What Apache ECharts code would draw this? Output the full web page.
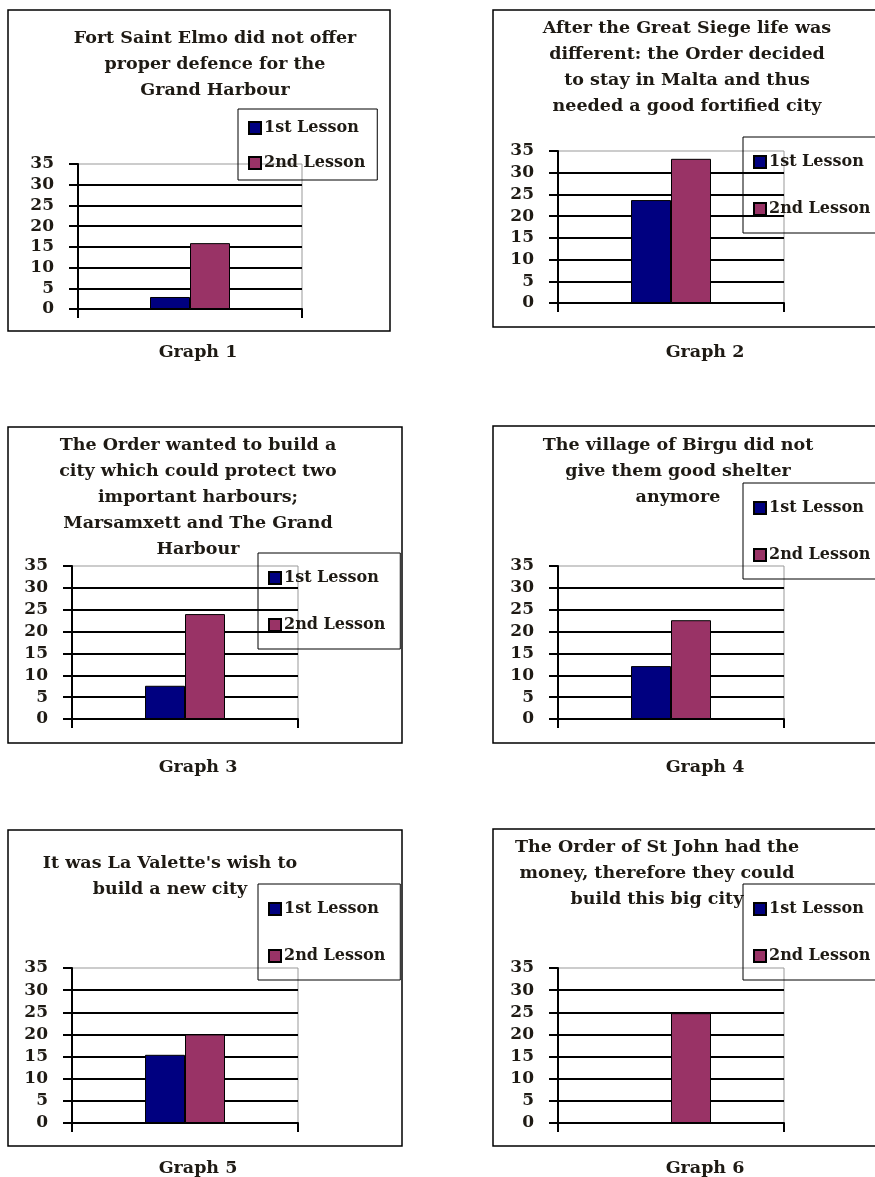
<!DOCTYPE html>
<html>
<head>
<meta charset="utf-8">
<script src="https://cdn.jsdelivr.net/npm/echarts@6/dist/echarts.min.js"></script>
<style>
  html, body { margin: 0; padding: 0; background: #fff; }
  #chart { width: 875px; height: 1177px; }
</style>
</head>
<body>
<div id="chart"></div>
<script>
// data of the six graphs
var seriesNames = ['1st Lesson', '2nd Lesson'];
var lesson1 = [2.9, 23.7, 7.6, 12.1, 15.4, 0];
var lesson2 = [15.9, 33.2, 24, 22.6, 20, 24.8];
var yTicks = [0, 5, 10, 15, 20, 25, 30, 35];
var graphTitles = [
    'Fort Saint Elmo did not offer\nproper defence for the\nGrand Harbour',
    'After the Great Siege life was\ndifferent: the Order decided\nto stay in Malta and thus\nneeded a good fortified city',
    'The Order wanted to build a\ncity which could protect two\nimportant harbours;\nMarsamxett and The Grand\nHarbour',
    'The village of Birgu did not\ngive them good shelter\nanymore',
    "It was La Valette's wish to\nbuild a new city",
    'The Order of St John had the\nmoney, therefore they could\nbuild this big city'
];
var captions = ['Graph 1', 'Graph 2', 'Graph 3', 'Graph 4', 'Graph 5', 'Graph 6'];

// layout
var FONT = '"DejaVu Serif", serif';
var TXT = '#1e1a14';
var colors = ['#000080', '#993366'];

var grids = [
    {left: 78, top: 164, width: 224, height: 145},
    {left: 558, top: 151, width: 226, height: 152},
    {left: 72, top: 566, width: 226, height: 153},
    {left: 558, top: 566, width: 226, height: 153},
    {left: 72, top: 968, width: 226, height: 155},
    {left: 558, top: 968, width: 226, height: 155}
];
var boxes = [
    [8, 10, 382, 321], [493, 10, 400, 317],
    [8, 427, 394, 316], [493, 426, 400, 317],
    [8, 830, 394, 316], [493, 829, 400, 317]
];
var titlePos = [[215, 25], [687, 15], [198, 432], [678, 432], [170, 850], [657, 834]];
var captionPos = [[198, 352], [705, 352], [198, 767], [705, 767], [198, 1168], [705, 1168]];
var legendPos = [[238, 109], [743, 137], [258, 553], [743, 483], [258, 884], [743, 884]];

const buildOption = () => {
    var grid = [], xAxis = [], yAxis = [], series = [], legend = [], graphic = [];

    for (var i = 0; i < 6; i++) {
        grid.push({
            left: grids[i].left, top: grids[i].top,
            width: grids[i].width, height: grids[i].height,
            show: true, borderColor: '#999', borderWidth: 1,
            backgroundColor: 'transparent'
        });
        xAxis.push({
            type: 'category', gridIndex: i, data: [''],
            axisLine: {lineStyle: {color: '#000', width: 2}},
            axisTick: {show: true, length: 9, lineStyle: {color: '#000', width: 2}},
            axisLabel: {show: false}
        });
        yAxis.push({
            type: 'value', gridIndex: i,
            min: yTicks[0], max: yTicks[yTicks.length - 1], interval: 5,
            axisLine: {show: true, lineStyle: {color: '#000', width: 2}},
            axisTick: {show: true, length: 9, lineStyle: {color: '#000', width: 2}},
            axisLabel: {
                margin: 24, color: TXT, fontFamily: FONT,
                fontWeight: 'bold', fontSize: 17
            },
            splitLine: {show: true, showMaxLine: false, lineStyle: {color: '#000', width: 2}}
        });
        var vals = [lesson1[i], lesson2[i]];
        for (var s = 0; s < 2; s++) {
            series.push({
                name: seriesNames[s], type: 'bar',
                xAxisIndex: i, yAxisIndex: i,
                data: [vals[s]],
                barWidth: 40, barGap: '0%',
                itemStyle: {color: colors[s], borderColor: '#000', borderWidth: 1},
                animation: false
            });
        }
        var first = i === 0;
        legend.push({
            orient: 'vertical',
            left: legendPos[i][0], top: legendPos[i][1],
            data: seriesNames,
            padding: first ? [10, 12, 8, 10] : [16, 15, 15, 10],
            itemGap: first ? 17 : 29,
            itemWidth: 12, itemHeight: 12,
            icon: 'rect',
            borderColor: '#000', borderWidth: 1,
            backgroundColor: 'transparent',
            selectedMode: false,
            textStyle: {
                color: TXT, fontFamily: FONT, fontWeight: 'bold',
                fontSize: 16, lineHeight: 18, padding: [0, 0, 0, -2]
            }
        });
        // outer frame
        graphic.push({
            type: 'rect', silent: true,
            shape: {x: boxes[i][0], y: boxes[i][1], width: boxes[i][2], height: boxes[i][3]},
            style: {fill: 'none', stroke: '#000', lineWidth: 1.5}
        });
        graphic.push({
            type: 'text', silent: true,
            x: titlePos[i][0], y: titlePos[i][1],
            style: {
                text: graphTitles[i], textAlign: 'center', textVerticalAlign: 'top',
                font: 'bold 17.5px ' + FONT, lineHeight: 26, fill: TXT
            }
        });
        graphic.push({
            type: 'text', silent: true,
            x: captionPos[i][0], y: captionPos[i][1],
            style: {
                text: captions[i], textAlign: 'center', textVerticalAlign: 'middle',
                font: 'bold 17.5px ' + FONT, fill: TXT
            }
        });
    }

    return {
        backgroundColor: '#fff',
        animation: false,
        grid: grid, xAxis: xAxis, yAxis: yAxis,
        legend: legend, series: series, graphic: graphic
    };
};

// init
var chart = echarts.init(document.getElementById('chart'), null, {renderer: 'canvas'});
chart.setOption(buildOption());
</script>
</body>
</html>
